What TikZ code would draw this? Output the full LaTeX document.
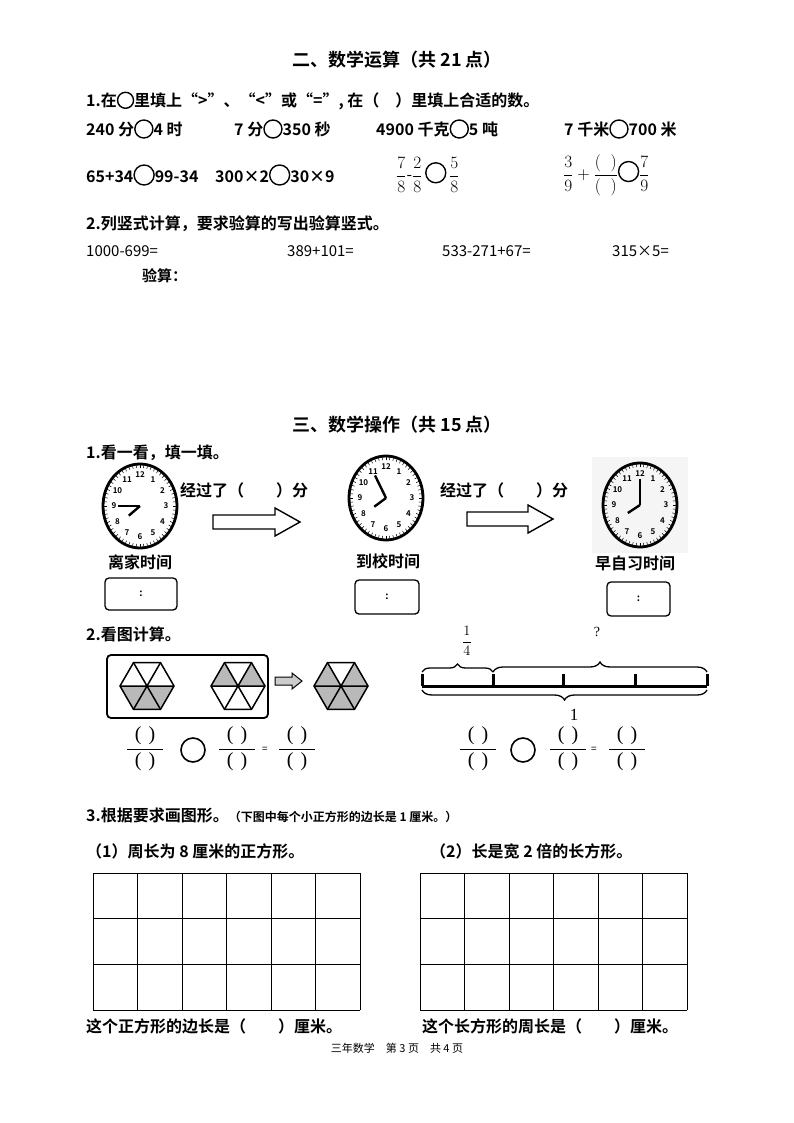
\documentclass[tikz,border=0pt]{standalone}
\usepackage{fontspec}
\usepackage{amsmath}
\setmainfont{Noto Sans CJK SC}[BoldFont={* Bold}]
\newfontfamily\serifnum{Liberation Serif}
\usetikzlibrary{decorations.pathreplacing}
\tikzset{
 tx/.style={anchor=west,inner sep=0pt,font=\fontsize{16}{16}\selectfont\bfseries},
 ttl/.style={inner sep=0pt,font=\fontsize{18}{18}\selectfont\bfseries},
 tbox/.style={draw,line width=1.3pt,rounded corners=4pt},
 harrow/.style={draw,line width=1.4pt,fill=white},
 par/.style={inner sep=0pt,font=\fontsize{20}{20}\selectfont\serifnum},
}
\newcommand{\clk}[5]{%
 \begin{scope}[shift={(#2,#3)}]
  \draw[line width=2.8pt] (0,0) ellipse (37 and 42);
  \foreach \a in {0,6,...,354}{\draw[line width=0.5pt] ({33*cos(\a)},{38*sin(\a)}) -- ({36*cos(\a)},{41*sin(\a)});}
  \foreach \n in {1,...,12}{\node[inner sep=0pt,font=\fontsize{8}{8}\selectfont\bfseries] at ({26*cos(90-30*\n)},{-31*sin(90-30*\n)}) {\n};}
  \draw[line width=2.4pt] (0,0) -- ({14*cos(#4)},{-16*sin(#4)});
  \draw[line width=2.4pt] (0,0) -- ({22*cos(#5)},{-26*sin(#5)});
  \coordinate (#1) at (0,0);
 \end{scope}}
\newcommand{\hexa}[3]{%
 \begin{scope}[shift={(#1,#2)}]
  \foreach \k in {#3}{\fill[gray!55] (0,0) -- ({27*cos(60*\k)},{-27*sin(60*\k)}) -- ({27*cos(60*\k+60)},{-27*sin(60*\k+60)}) -- cycle;}
  \draw[line width=1.5pt] (0:27) \foreach \a in {60,120,...,300}{ -- (\a:27)} -- cycle;
  \draw[line width=1.5pt] (0:27) -- (180:27) (60:27) -- (240:27) (120:27) -- (300:27);
 \end{scope}}
\newcommand{\pf}[2]{%
 \node[par] at (#1,#2-13) {(\hspace{7pt})};
 \node[par] at (#1,#2+13) {(\hspace{7pt})};
 \draw[line width=0.9pt] (#1-18,#2) -- (#1+18,#2);}
\begin{document}
\begin{tikzpicture}[x=1pt,y=-1pt]
\useasboundingbox (0,0) rectangle (794,1123);
\node[ttl] (t1) at (397,60) {二、数学运算（共 21 点）};
\node[tx] (q1) at (86,101) {1.在\raisebox{-2pt}{\tikz\draw[line width=1.4pt] (0,0) circle (8pt);}里填上“>”、“<”或“=”, 在（\quad）里填上合适的数。};
\node[tx] (a1) at (86,129) {240 分\raisebox{-3pt}{\tikz\draw[line width=1.4pt] (0,0) circle (9pt);}4 时};
\node[tx] (a2) at (234,129) {7 分\raisebox{-3pt}{\tikz\draw[line width=1.4pt] (0,0) circle (9pt);}350 秒};
\node[tx] (a3) at (376,129) {4900 千克\raisebox{-3pt}{\tikz\draw[line width=1.4pt] (0,0) circle (9pt);}5 吨};
\node[tx] (a4) at (564,129) {7 千米\raisebox{-3pt}{\tikz\draw[line width=1.4pt] (0,0) circle (9pt);}700 米};
\node[tx] (b1) at (86,175) {65+34\raisebox{-3pt}{\tikz\draw[line width=1.4pt] (0,0) circle (10pt);}99-34};
\node[tx] (b2) at (215,175) {300×2\raisebox{-3pt}{\tikz\draw[line width=1.4pt] (0,0) circle (10pt);}30×9};
\node[tx,font=\fontsize{16}{16}\selectfont] (b3) at (396,175) {$\dfrac{7}{8}$-$\dfrac{2}{8}$\,\raisebox{-3pt}{\tikz\draw[line width=1.4pt] (0,0) circle (10pt);}\,$\dfrac{5}{8}$};
\node[tx,font=\fontsize{16}{16}\selectfont] (b4) at (563,175) {$\dfrac{3}{9}+\dfrac{(\;\;)}{(\;\;)}$\raisebox{-3pt}{\tikz\draw[line width=1.4pt] (0,0) circle (10pt);}$\dfrac{7}{9}$};
\node[tx] (q2) at (86,224) {2.列竖式计算，要求验算的写出验算竖式。};
\node[tx,font=\fontsize{15}{15}\selectfont] (c1) at (86,251) {1000-699=};
\node[tx,font=\fontsize{15}{15}\selectfont] (c2) at (287,251) {389+101=};
\node[tx,font=\fontsize{15}{15}\selectfont] (c3) at (442,251) {533-271+67=};
\node[tx,font=\fontsize{15}{15}\selectfont] (c4) at (612,251) {315×5=};
\node[tx,font=\fontsize{15}{15}\selectfont\bfseries] (c5) at (142,276) {验算：};
\node[ttl] (t2) at (397,425) {三、数学操作（共 15 点）};
\node[tx] (q3) at (86,453) {1.看一看，填一填。};
\clk{k1}{140}{506}{217}{180}
\clk{k2}{386}{498}{213}{120}
\fill[gray!8] (592,457) rectangle (688,553);
\clk{k3}{640}{505}{210}{90}
\node[tx] (p1) at (180,490) {经过了（\qquad ）分};
\node[tx] (p2) at (440,490) {经过了（\qquad ）分};
\draw[harrow] (213,515) -- (275,515) -- (275,508) -- (300,522) -- (275,536) -- (275,529) -- (213,529) -- cycle;
\draw[harrow] (467,512) -- (528,512) -- (528,505) -- (553,519) -- (528,533) -- (528,526) -- (467,526) -- cycle;
\node[tx,anchor=center] (l1) at (140,562) {离家时间};
\node[tx,anchor=center] (l2) at (388,561) {到校时间};
\node[tx,anchor=center] (l3) at (635,563) {早自习时间};
\draw[tbox] (105,578) rectangle (177,610) node[midway,font=\bfseries] {:};
\draw[tbox] (355,580) rectangle (419,614) node[midway,font=\bfseries] {:};
\draw[tbox] (607,582) rectangle (670,616) node[midway,font=\bfseries] {:};
\node[tx] (q4) at (86,634) {2.看图计算。};
\draw[tbox,line width=1.8pt] (107,655) rectangle (268,718);
\hexa{147}{686}{3,4,5}
\hexa{238}{686}{0,2}
\hexa{341}{686}{0,2,3,4,5}
\draw[harrow,fill=gray!40,line width=1pt] (275,677) -- (292,677) -- (292,673) -- (302,681) -- (292,689) -- (292,685) -- (275,685) -- cycle;
\draw[line width=3pt] (422,686) -- (707,686);
\foreach \xx in {422,493,563,635,707}{\draw[line width=3pt] (\xx,686) -- (\xx,674);}
\draw[line width=1.3pt,decorate,decoration={brace,amplitude=8pt}] (422,672) -- (493,672);
\draw[line width=1.3pt,decorate,decoration={brace,amplitude=10pt}] (493,672) -- (707,672);
\draw[line width=1.3pt,decorate,decoration={brace,amplitude=10pt,mirror}] (422,690) -- (707,690);
\node[inner sep=0pt,font=\fontsize{15}{15}\selectfont] (f14) at (467,641) {$\dfrac{1}{4}$};
\node[inner sep=0pt,font=\fontsize{14}{14}\selectfont\serifnum] (fq) at (597,632) {?};
\node[inner sep=0pt,font=\fontsize{17}{17}\selectfont\serifnum] (f1) at (574,715) {1};
\foreach \X/\C/\Y/\E/\Z in {145/193/237/265/297, 478/523/568/594/627}{
 \pf{\X}{749}
 \draw[line width=1.6pt] (\C,750) circle (12);
 \pf{\Y}{749}
 \node[inner sep=0pt,font=\fontsize{10}{10}\selectfont] at (\E,750) {=};
 \pf{\Z}{749}
}
\node[tx] (q5) at (86,815) {3.根据要求画图形。{\fontsize{12}{12}\selectfont（下图中每个小正方形的边长是 1 厘米。）}};
\node[tx] (r1) at (86,851) {（1）周长为 8 厘米的正方形。};
\node[tx] (r2) at (430,851) {（2）长是宽 2 倍的长方形。};
\foreach \gx in {93,420}{
 \foreach \i in {0,...,6}{\draw[line width=0.9pt] (\gx+44.5*\i,873) -- (\gx+44.5*\i,1010);}
 \foreach \j in {0,...,3}{\draw[line width=0.9pt] (\gx,873+45.67*\j) -- (\gx+267,873+45.67*\j);}
}
\node[tx] (s1) at (86,1026) {这个正方形的边长是（\qquad ）厘米。};
\node[tx] (s2) at (422,1026) {这个长方形的周长是（\qquad ）厘米。};
\node[inner sep=0pt,font=\fontsize{11}{11}\selectfont] (ft) at (397,1048) {三年数学\quad 第 3 页\quad 共 4 页};
\end{tikzpicture}
\end{document}
